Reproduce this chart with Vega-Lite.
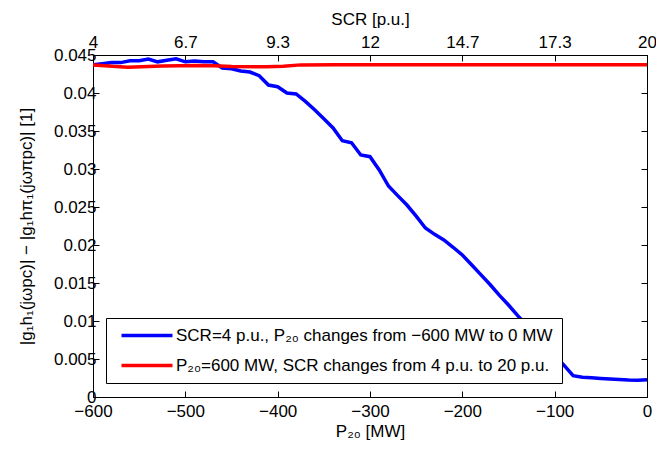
{
  "$schema": "https://vega.github.io/schema/vega-lite/v6.json",
  "autosize": {"type": "none"},
  "width": 554,
  "height": 342,
  "padding": {"left": 93, "top": 55, "right": 9, "bottom": 53},
  "background": "white",
  "config": {
    "font": "Liberation Sans",
    "view": {"stroke": "black", "strokeWidth": 1},
    "axis": {
      "grid": false,
      "domainColor": "black",
      "tickColor": "black",
      "labelColor": "black",
      "titleColor": "black",
      "labelFont": "Liberation Sans",
      "titleFont": "Liberation Sans",
      "labelFontSize": 17,
      "titleFontSize": 17,
      "titleFontWeight": "normal",
      "tickSize": -6,
      "labelOverlap": false,
      "labelFlush": false
    },
    "legend": {
      "labelFont": "Liberation Sans",
      "labelFontSize": 17,
      "labelColor": "black",
      "labelLimit": 0,
      "labelAlign": "left",
      "gridAlign": "all"
    }
  },
  "layer": [
    {
      "data": {
        "values": [
          {"P": -600, "v": 0.0437}, {"P": -590, "v": 0.04385}, {"P": -580, "v": 0.044}, {"P": -570, "v": 0.044},
          {"P": -560, "v": 0.04425}, {"P": -550, "v": 0.04425}, {"P": -540, "v": 0.04447}, {"P": -530, "v": 0.0441},
          {"P": -520, "v": 0.0443}, {"P": -510, "v": 0.04451}, {"P": -500, "v": 0.0441}, {"P": -490, "v": 0.04421},
          {"P": -480, "v": 0.0441}, {"P": -470, "v": 0.0441}, {"P": -460, "v": 0.0433}, {"P": -450, "v": 0.0432},
          {"P": -440, "v": 0.0429}, {"P": -430, "v": 0.04276}, {"P": -420, "v": 0.04228}, {"P": -410, "v": 0.04105},
          {"P": -400, "v": 0.04083}, {"P": -390, "v": 0.04}, {"P": -380, "v": 0.03987}, {"P": -370, "v": 0.0389},
          {"P": -360, "v": 0.0378}, {"P": -350, "v": 0.0366}, {"P": -340, "v": 0.0354}, {"P": -330, "v": 0.03372},
          {"P": -320, "v": 0.03346}, {"P": -310, "v": 0.03184}, {"P": -300, "v": 0.03162}, {"P": -290, "v": 0.02987},
          {"P": -280, "v": 0.02776}, {"P": -270, "v": 0.0265}, {"P": -260, "v": 0.02526}, {"P": -250, "v": 0.0238},
          {"P": -240, "v": 0.02224}, {"P": -230, "v": 0.0214}, {"P": -220, "v": 0.02066}, {"P": -210, "v": 0.0197},
          {"P": -200, "v": 0.01868}, {"P": -190, "v": 0.0174}, {"P": -180, "v": 0.0161}, {"P": -170, "v": 0.0148},
          {"P": -160, "v": 0.0134}, {"P": -150, "v": 0.0121}, {"P": -140, "v": 0.0107}, {"P": -130, "v": 0.0094},
          {"P": -120, "v": 0.0081}, {"P": -110, "v": 0.0068}, {"P": -100, "v": 0.0055}, {"P": -90, "v": 0.0042},
          {"P": -80, "v": 0.0028}, {"P": -70, "v": 0.0026}, {"P": -60, "v": 0.00252}, {"P": -50, "v": 0.00244},
          {"P": -40, "v": 0.00236}, {"P": -30, "v": 0.0023}, {"P": -20, "v": 0.00224}, {"P": -10, "v": 0.00222},
          {"P": 0, "v": 0.00226}
        ]
      },
      "mark": {"type": "line", "strokeWidth": 3.5, "clip": true},
      "encoding": {
        "x": {
          "field": "P", "type": "quantitative",
          "scale": {"domain": [-600, 0], "nice": false, "zero": false},
          "axis": {"orient": "bottom", "values": [-600, -500, -400, -300, -200, -100, 0], "format": "d", "title": "P₂₀ [MW]", "labelPadding": 12, "titlePadding": 4}
        },
        "y": {
          "field": "v", "type": "quantitative",
          "scale": {"domain": [0, 0.045], "nice": false},
          "axis": {"orient": "left", "values": [0, 0.005, 0.01, 0.015, 0.02, 0.025, 0.03, 0.035, 0.04, 0.045], "format": ".3~f", "title": "|g₁h₁(jωpc)| − |g₁hπ₁(jωπpc)| [1]", "labelPadding": 3, "titlePadding": 18}
        },
        "color": {
          "datum": "SCR=4 p.u., P₂₀ changes from −600 MW to 0 MW",
          "type": "nominal",
          "scale": {"domain": ["SCR=4 p.u., P₂₀ changes from −600 MW to 0 MW", "P₂₀=600 MW, SCR changes from 4 p.u. to 20 p.u."], "range": ["#0000ff", "#ff0000"]},
          "legend": {
            "title": null,
            "orient": "none",
            "legendX": 13,
            "legendY": 263,
            "symbolType": "M0,0H10.2",
            "symbolSize": 100,
            "symbolStrokeWidth": 3.5,
            "symbolOffset": -2,
            "strokeColor": "black",
            "fillColor": "white",
            "padding": 9,
            "rowPadding": 12,
            "labelOffset": 46
          }
        }
      }
    },
    {
      "data": {
        "values": [
          {"SCR": 4, "v": 0.04368}, {"SCR": 5, "v": 0.0434}, {"SCR": 6, "v": 0.04355}, {"SCR": 7, "v": 0.04362},
          {"SCR": 7.5, "v": 0.0436}, {"SCR": 8, "v": 0.04348}, {"SCR": 9, "v": 0.04345}, {"SCR": 9.5, "v": 0.04352},
          {"SCR": 10, "v": 0.0437}, {"SCR": 11, "v": 0.04372}, {"SCR": 12, "v": 0.04372}, {"SCR": 14, "v": 0.04372},
          {"SCR": 16, "v": 0.04372}, {"SCR": 18, "v": 0.04372}, {"SCR": 20, "v": 0.04372}
        ]
      },
      "mark": {"type": "line", "strokeWidth": 3.5, "clip": true},
      "encoding": {
        "x": {
          "field": "SCR", "type": "quantitative",
          "scale": {"domain": [4, 20], "nice": false, "zero": false},
          "axis": {"orient": "top", "values": [4, 6.6667, 9.3333, 12, 14.6667, 17.3333, 20], "labelExpr": "format(datum.value, '.1~f')", "title": "SCR [p.u.]", "labelPadding": 10, "titlePadding": 5}
        },
        "y": {
          "field": "v", "type": "quantitative",
          "scale": {"domain": [0, 0.045], "nice": false},
          "axis": {"orient": "right", "values": [0, 0.005, 0.01, 0.015, 0.02, 0.025, 0.03, 0.035, 0.04, 0.045], "labels": false, "title": null}
        },
        "color": {
          "datum": "P₂₀=600 MW, SCR changes from 4 p.u. to 20 p.u.",
          "type": "nominal"
        }
      }
    }
  ],
  "resolve": {"scale": {"x": "independent", "y": "independent"}, "axis": {"x": "independent", "y": "independent"}}
}
